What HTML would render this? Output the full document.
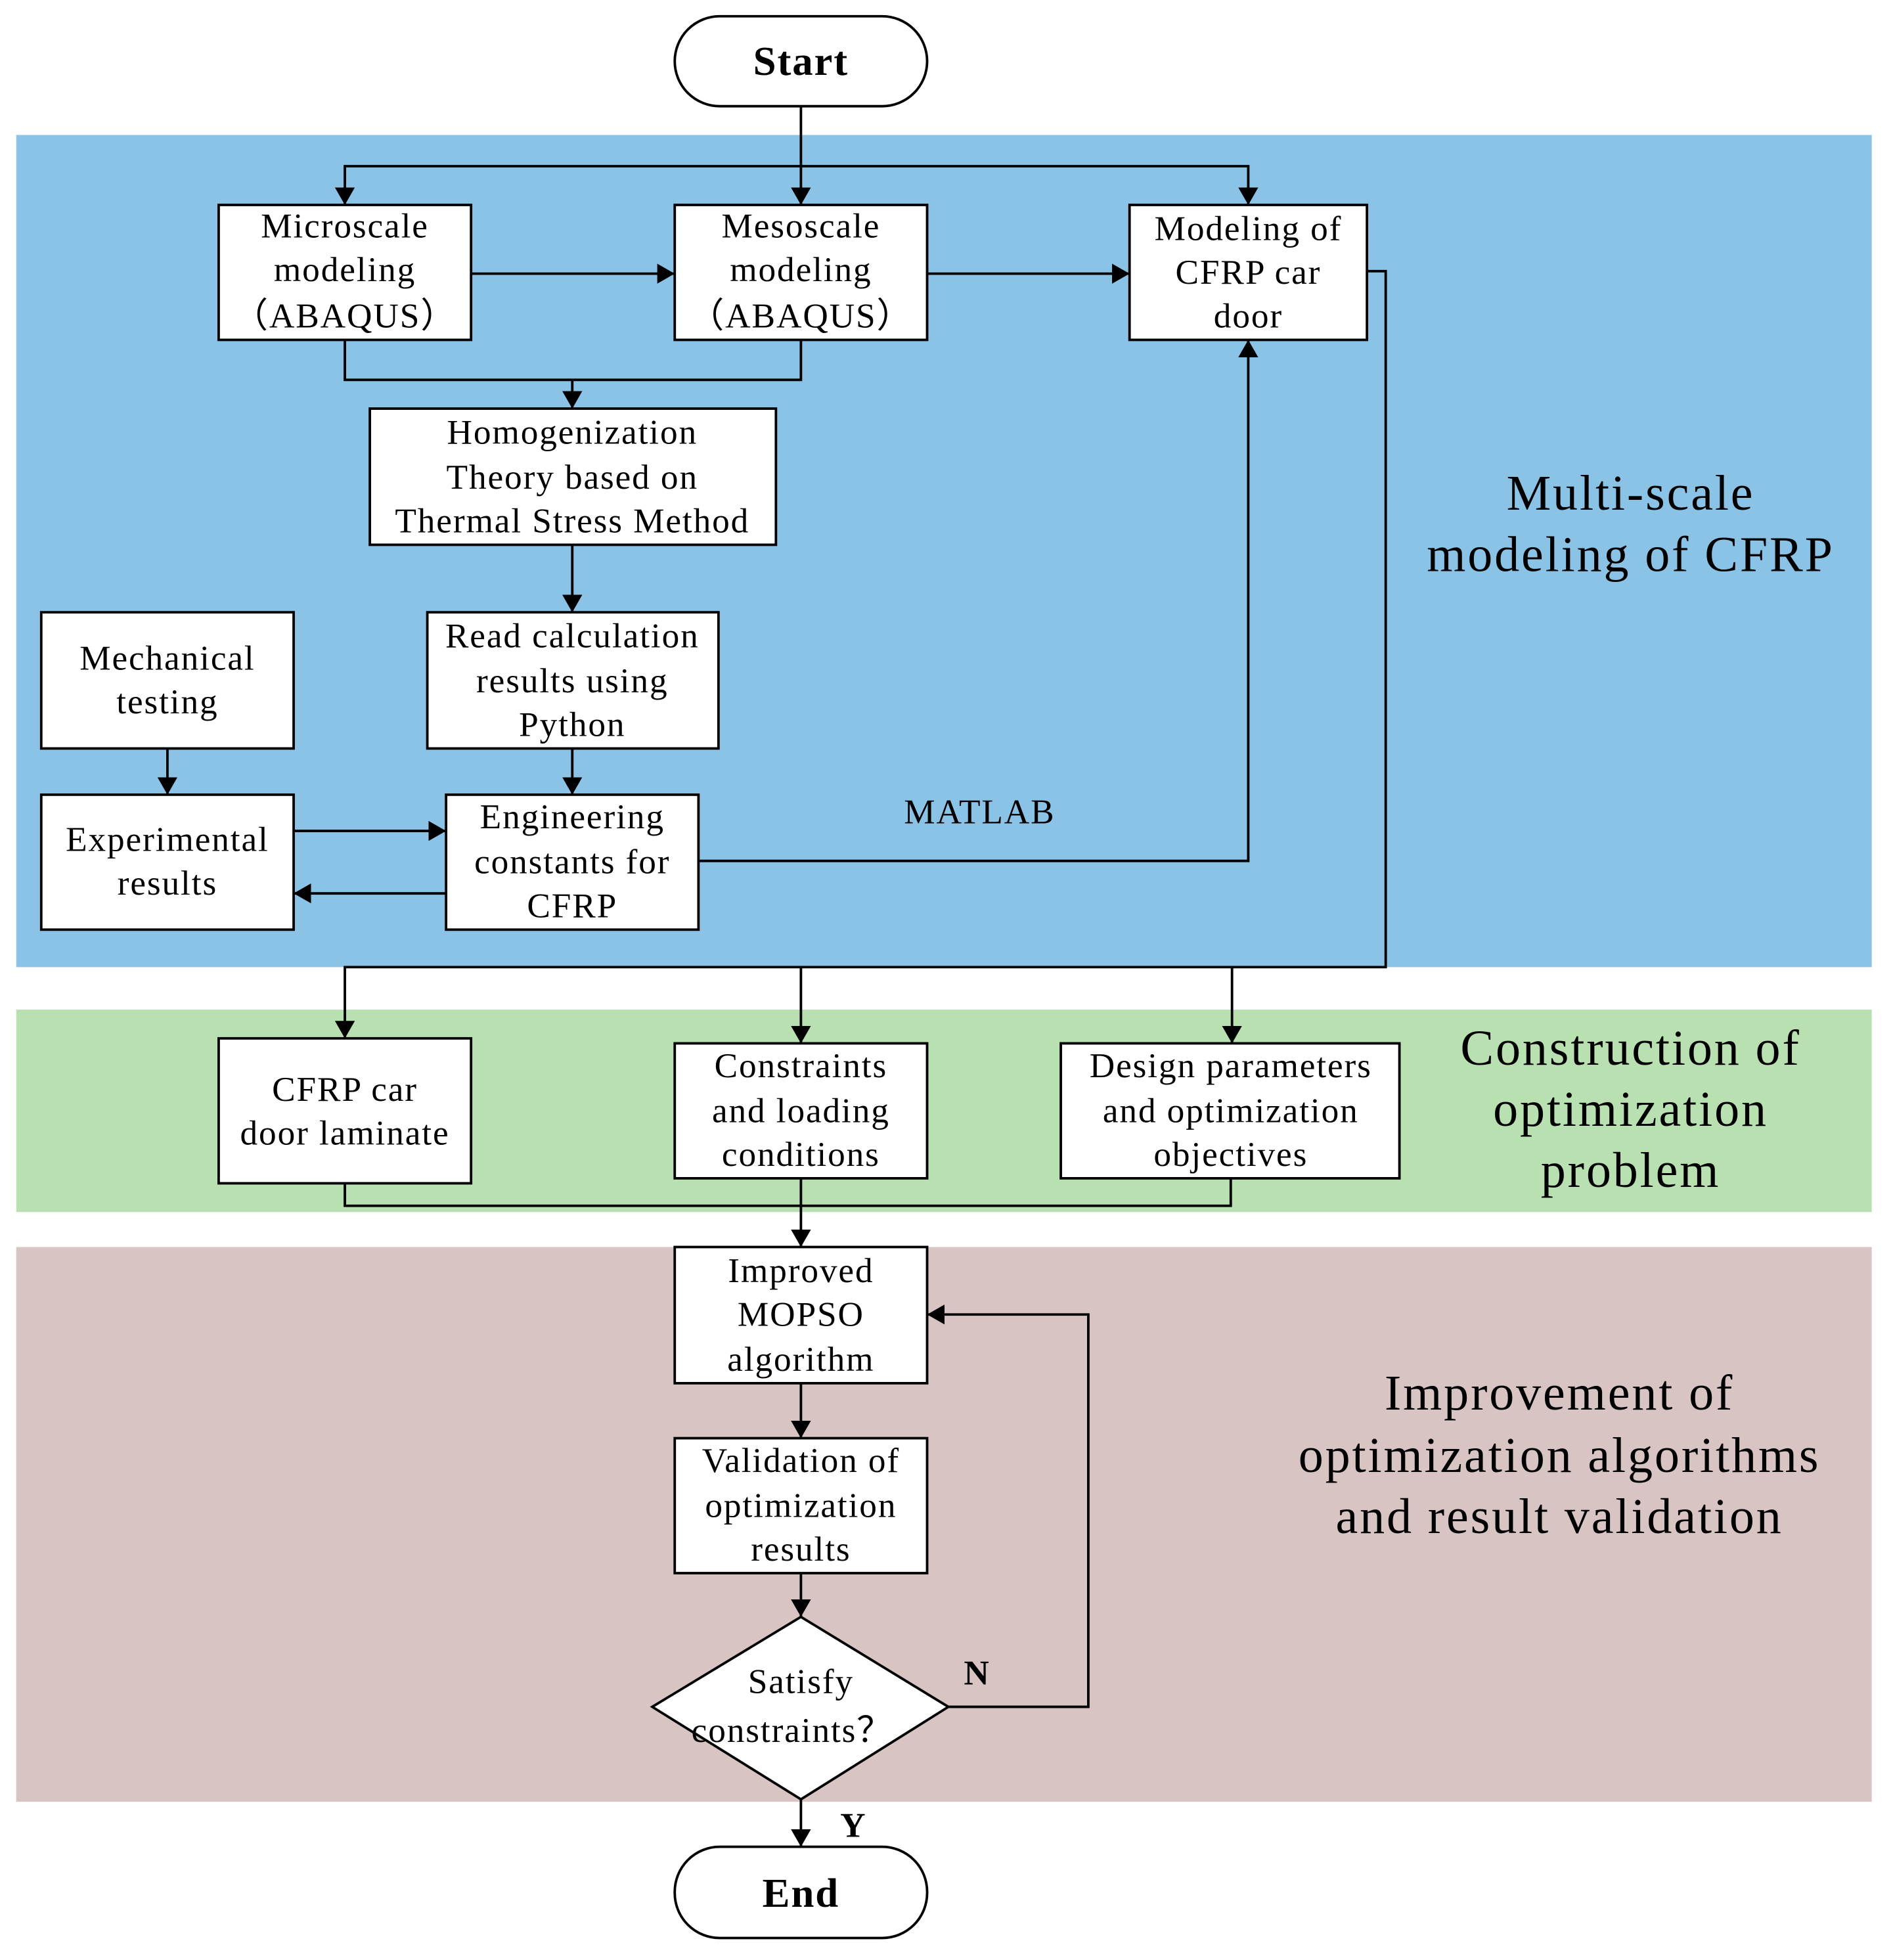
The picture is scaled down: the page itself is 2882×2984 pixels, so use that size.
<!DOCTYPE html>
<html><head><meta charset="utf-8"><style>html,body{margin:0;padding:0;background:#fff}svg{display:block}</style></head>
<body>
<svg width="2882" height="2984" viewBox="0 0 1515 1568.6" xmlns="http://www.w3.org/2000/svg" font-family="'Liberation Serif', serif">
<defs>
<marker id="b" markerWidth="14" markerHeight="16" refX="14" refY="8" orient="auto" markerUnits="userSpaceOnUse"><path d="M0,0 L14,8 L0,16 z" fill="#000"/></marker></defs>
<rect x="13" y="108" width="1485" height="666" fill="#8BC3E6"/>
<rect x="13" y="808" width="1485" height="162" fill="#B8E0B0"/>
<rect x="13" y="998" width="1485" height="444" fill="#D7C4C3"/>
<g fill="#fff" stroke="#000" stroke-width="2">
<rect x="540" y="13" width="202" height="72" rx="36"/>
<rect x="540" y="1478" width="202" height="73" rx="36"/>
<rect x="175" y="164" width="202" height="108"/>
<rect x="540" y="164" width="202" height="108"/>
<rect x="904" y="164" width="190" height="108"/>
<rect x="296" y="327" width="325" height="109"/>
<rect x="342" y="490" width="233" height="109"/>
<rect x="33" y="490" width="202" height="109"/>
<rect x="33" y="636" width="202" height="108"/>
<rect x="357" y="636" width="202" height="108"/>
<rect x="175" y="831" width="202" height="116"/>
<rect x="540" y="835" width="202" height="108"/>
<rect x="849" y="835" width="271" height="108"/>
<rect x="540" y="998" width="202" height="109"/>
<rect x="540" y="1151" width="202" height="108"/>
<polygon points="641,1294 759,1366 641,1440 522,1366"/>
</g>
<g fill="none" stroke="#000" stroke-width="2">
<path d="M641 85 V164" marker-end="url(#b)"/>
<path d="M641 133 H276 V164" marker-end="url(#b)"/>
<path d="M641 133 H999 V164" marker-end="url(#b)"/>
<path d="M377 219 H540" marker-end="url(#b)"/>
<path d="M742 219 H904" marker-end="url(#b)"/>
<path d="M276 272 V304 H641 V272"/>
<path d="M458 304 V327" marker-end="url(#b)"/>
<path d="M458 436 V490" marker-end="url(#b)"/>
<path d="M458 599 V636" marker-end="url(#b)"/>
<path d="M134 599 V636" marker-end="url(#b)"/>
<path d="M235 665 H357" marker-end="url(#b)"/>
<path d="M357 715 H235" marker-end="url(#b)"/>
<path d="M559 689 H999 V272" marker-end="url(#b)"/>
<path d="M1094 217 H1109 V774 H276 V831" marker-end="url(#b)"/>
<path d="M641 774 V835" marker-end="url(#b)"/>
<path d="M986 774 V835" marker-end="url(#b)"/>
<path d="M276 947 V965 H985 V943"/>
<path d="M641 943 V998" marker-end="url(#b)"/>
<path d="M641 1107 V1151" marker-end="url(#b)"/>
<path d="M641 1259 V1294" marker-end="url(#b)"/>
<path d="M759 1366 H871 V1052 H742" marker-end="url(#b)"/>
<path d="M641 1440 V1478" marker-end="url(#b)"/>
</g>
<g font-size="28" letter-spacing="1" text-anchor="middle" fill="#000">
<text x="641" y="60" font-size="33" font-weight="bold">Start</text>
<text x="641" y="1526" font-size="33" font-weight="bold">End</text>
<text x="276" y="190">Microscale</text><text x="276" y="225">modeling</text><text x="276" y="262">（ABAQUS）</text>
<text x="641" y="190">Mesoscale</text><text x="641" y="225">modeling</text><text x="641" y="262">（ABAQUS）</text>
<text x="999" y="192">Modeling of</text><text x="999" y="227">CFRP car</text><text x="999" y="262">door</text>
<text x="458" y="355">Homogenization</text><text x="458" y="391">Theory based on</text><text x="458" y="426">Thermal Stress Method</text>
<text x="458" y="518">Read calculation</text><text x="458" y="554">results using</text><text x="458" y="589">Python</text>
<text x="134" y="536">Mechanical</text><text x="134" y="571">testing</text>
<text x="134" y="681">Experimental</text><text x="134" y="716">results</text>
<text x="458" y="663">Engineering</text><text x="458" y="699">constants for</text><text x="458" y="734">CFRP</text>
<text x="784" y="659">MATLAB</text>
<text x="276" y="881">CFRP car</text><text x="276" y="916">door laminate</text>
<text x="641" y="862">Constraints</text><text x="641" y="898">and loading</text><text x="641" y="933">conditions</text>
<text x="985" y="862">Design parameters</text><text x="985" y="898">and optimization</text><text x="985" y="933">objectives</text>
<text x="641" y="1026">Improved</text><text x="641" y="1061">MOPSO</text><text x="641" y="1097">algorithm</text>
<text x="641" y="1178">Validation of</text><text x="641" y="1214">optimization</text><text x="641" y="1249">results</text>
<text x="641" y="1355">Satisfy</text><text x="634" y="1394">constraints？</text>
<text x="782" y="1348" font-weight="bold">N</text>
<text x="683" y="1470" font-weight="bold">Y</text>
</g>
<g font-size="40" letter-spacing="1.5" text-anchor="middle" fill="#000">
<text x="1305" y="408">Multi-scale</text><text x="1305" y="457">modeling of CFRP</text>
<text x="1305" y="852">Construction of</text><text x="1305" y="901">optimization</text><text x="1305" y="950">problem</text>
<text x="1248" y="1128">Improvement of</text><text x="1248" y="1178">optimization algorithms</text><text x="1248" y="1227">and result validation</text>
</g>
</svg>
</body></html>
